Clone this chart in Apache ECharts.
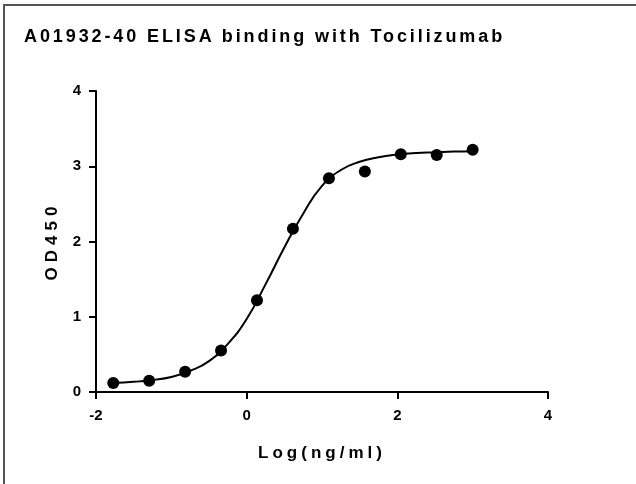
<!DOCTYPE html>
<html>
<head>
<meta charset="utf-8">
<script src="https://cdn.jsdelivr.net/npm/echarts@6/dist/echarts.min.js"></script>
<style>
  html, body { margin: 0; padding: 0; background: #fff; }
  #wrap { position: relative; width: 636px; height: 484px; overflow: hidden; }
  #main { position: absolute; left: 0; top: 0; width: 636px; height: 484px; }
  #frame { position: absolute; left: 3px; top: 4px; width: 700px; height: 600px;
           border-left: 2px solid #555; border-top: 2px solid #555; pointer-events: none; }
  .txt { position: absolute; font-family: 'Liberation Sans', Arial, sans-serif; font-weight: bold;
         color: #000; white-space: nowrap; pointer-events: none; }
  #title { left: 24px; top: 26px; font-size: 18px; letter-spacing: 2.9px; }
  #xname { left: 322px; top: 443px; font-size: 17px; letter-spacing: 4px; transform: translateX(-50%); }
  #yname { left: 52px; top: 241px; font-size: 17px; letter-spacing: 5px;
           transform: translate(-50%, -50%) rotate(-90deg); }
</style>
</head>
<body>
<div id="wrap">
  <div id="main"></div>
  <div id="frame"></div>
  <div class="txt" id="title">A01932-40 ELISA binding with Tocilizumab</div>
  <div class="txt" id="xname">Log(ng/ml)</div>
  <div class="txt" id="yname">OD450</div>
</div>
<script>
// measured points (log concentration, OD450)
const logConc = [-1.771, -1.294, -0.817, -0.340, 0.137, 0.614, 1.092, 1.569, 2.046, 2.523, 3.0];
const od450 = [0.12, 0.15, 0.27, 0.55, 1.22, 2.17, 2.84, 2.93, 3.16, 3.15, 3.22];

// fitted curve
const fitX = [-1.77, -1.5, -1.25, -1.0, -0.75, -0.5, -0.25, 0, 0.25, 0.5, 0.75, 1.0, 1.25, 1.5, 1.75, 2.0, 2.25, 2.5, 2.75, 3.0];
const fitY = [0.12, 0.135, 0.16, 0.20, 0.28, 0.41, 0.64, 0.97, 1.43, 1.92, 2.37, 2.74, 2.95, 3.06, 3.12, 3.155, 3.175, 3.185, 3.195, 3.20];

const xTicks = [-2, 0, 2, 4];
const yTicks = [0, 1, 2, 3, 4];

const font = "'Liberation Sans', Arial, sans-serif";
let chart = echarts.init(document.getElementById('main'));
chart.setOption({
  backgroundColor: '#fff',
  animation: false,
  grid: { left: 96, right: 88, top: 91, bottom: 92, outerBoundsMode: 'none' },
  xAxis: {
    type: 'value',
    min: xTicks[0], max: xTicks[xTicks.length - 1], interval: 2,
    axisLine: { onZero: false, lineStyle: { color: '#000', width: 2 } },
    axisTick: { length: 7, lineStyle: { color: '#000', width: 2 } },
    axisLabel: { color: '#000', fontSize: 15, fontWeight: 'bold', fontFamily: font, margin: 16 },
    splitLine: { show: false }
  },
  yAxis: {
    type: 'value',
    min: yTicks[0], max: yTicks[yTicks.length - 1], interval: 1,
    axisLine: { show: true, onZero: false, lineStyle: { color: '#000', width: 2 } },
    axisTick: { show: true, length: 7, lineStyle: { color: '#000', width: 2 } },
    axisLabel: { color: '#000', fontSize: 15, fontWeight: 'bold', fontFamily: font, margin: 15 },
    splitLine: { show: false }
  },
  series: [
    {
      type: 'line',
      data: fitX.map((x, i) => [x, fitY[i]]),
      smooth: 0.5,
      showSymbol: false,
      lineStyle: { color: '#000', width: 2 },
      z: 2
    },
    {
      type: 'scatter',
      data: logConc.map((x, i) => [x, od450[i]]),
      symbol: 'circle',
      symbolSize: 12,
      itemStyle: { color: '#000', opacity: 1 },
      z: 3
    }
  ]
});
</script>
</body>
</html>
